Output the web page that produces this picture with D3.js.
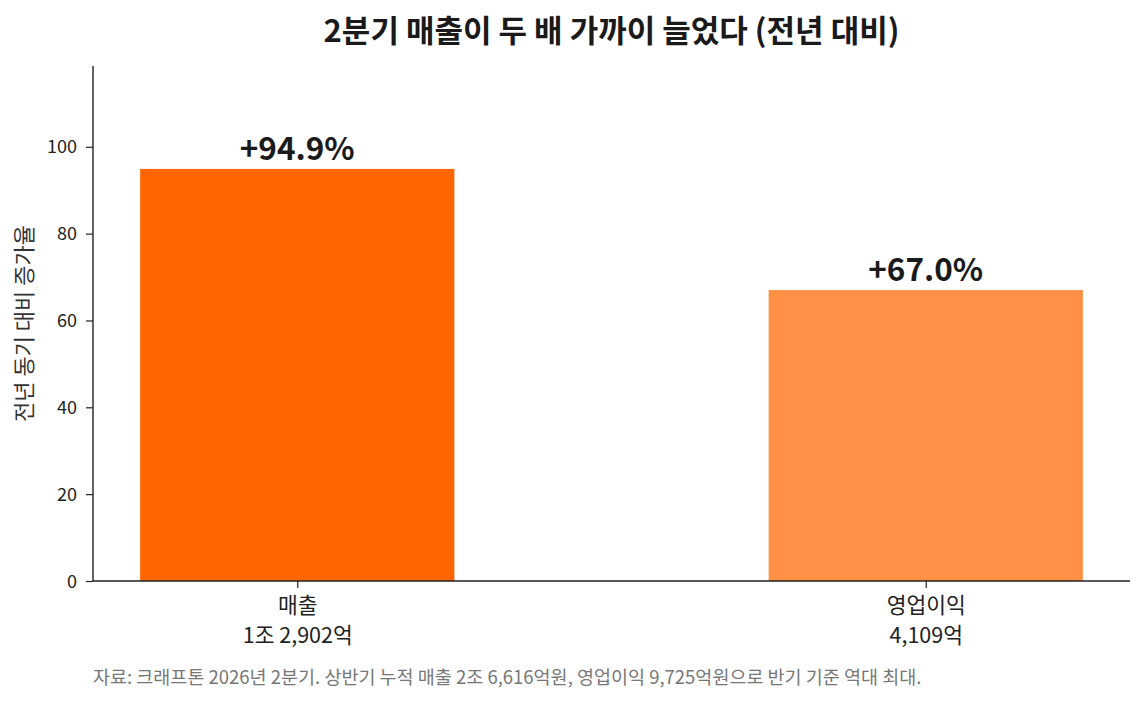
<!DOCTYPE html>
<html><head><meta charset="utf-8">
<script src="https://cdn.jsdelivr.net/npm/d3@7"></script>
<style>
html,body{margin:0;padding:0;background:#fff;}
text{font-family:"Noto Sans CJK KR","Noto Sans",sans-serif;}
</style></head>
<body>
<svg id="chart" width="1145" height="702"></svg>
<script>
const categories = ["매출", "영업이익"];
const subLabels = ["1조 2,902억", "4,109억"];
const growth = [94.9, 67.0];
const valueLabels = ["+94.9%", "+67.0%"];
const colors = ["#FF6600", "#FF9147"];
const yTicks = [0, 20, 40, 60, 80, 100];
const title = "2분기 매출이 두 배 가까이 늘었다 (전년 대비)";
const yTitle = "전년 동기 대비 증가율";
const note = "자료: 크래프톤 2026년 2분기. 상반기 누적 매출 2조 6,616억원, 영업이익 9,725억원으로 반기 기준 역대 최대.";

const svg = d3.select("#chart");
const m = {left: 93, right: 1130, top: 66, bottom: 581};
const ink = "#222222";

const x = d3.scaleLinear().domain([-0.325, 1.325]).range([m.left, m.right]);
const y = d3.scaleLinear().domain([0, 118.6]).range([m.bottom, m.top]);
const bw = x(0.5) - x(0);

// bars
svg.selectAll("rect.bar").data(growth).join("rect")
  .attr("class","bar")
  .attr("x",(d,i)=>x(i)-bw/2).attr("width",bw)
  .attr("y",d=>y(d)).attr("height",d=>y(0)-y(d))
  .attr("fill",(d,i)=>colors[i]);

// value labels
svg.selectAll("text.val").data(growth).join("text")
  .attr("class","val")
  .attr("x",(d,i)=>x(i)).attr("y",d=>y(d)-9)
  .attr("text-anchor","middle").attr("font-size",31.5).attr("font-weight",700)
  .attr("fill","#1a1a1a")
  .text((d,i)=>valueLabels[i]);

// y axis
const yAxis = d3.axisLeft(y).tickValues(yTicks).tickSize(7).tickPadding(9).tickFormat(d3.format("d"));
const gy = svg.append("g").attr("transform",`translate(${m.left},0)`).call(yAxis);
gy.select(".domain").attr("stroke",ink).attr("stroke-width",1.4).attr("d",`M0,${m.top}V${m.bottom}`);
gy.selectAll(".tick line").attr("stroke",ink).attr("stroke-width",1.2);
gy.selectAll(".tick text").attr("font-size",18).attr("fill",ink)
  .style("font-family",'"Noto Sans CJK KR",sans-serif').attr("dy","0.34em");

// x axis
const xAxis = d3.axisBottom(x).tickValues([0,1]).tickSize(7).tickFormat(()=>"");
const gx = svg.append("g").attr("transform",`translate(0,${m.bottom})`).call(xAxis);
gx.select(".domain").attr("stroke",ink).attr("stroke-width",1.4).attr("d",`M${m.left},0H${m.right}`);
gx.selectAll(".tick line").attr("stroke",ink).attr("stroke-width",1.2);
gx.selectAll(".tick").each(function(d,i){
  const t = d3.select(this).append("text").attr("text-anchor","middle")
    .attr("font-size",21.5).attr("fill",ink);
  t.append("tspan").attr("x",0).attr("y",32).text(categories[i]);
  t.append("tspan").attr("x",0).attr("y",62).text(subLabels[i]);
});

// y title
svg.append("text")
  .attr("transform",`translate(32,${(m.top+m.bottom)/2}) rotate(-90)`)
  .attr("text-anchor","middle").attr("font-size",22).attr("fill","#333")
  .text(yTitle);

// title
svg.append("text").attr("x",(m.left+m.right)/2).attr("y",42)
  .attr("text-anchor","middle").attr("font-size",31).attr("font-weight",700)
  .attr("fill","#1a1a1a").text(title);

// note
svg.append("text").attr("x",93).attr("y",684)
  .attr("font-size",18.5).attr("fill","#777").text(note);
</script>
</body></html>
